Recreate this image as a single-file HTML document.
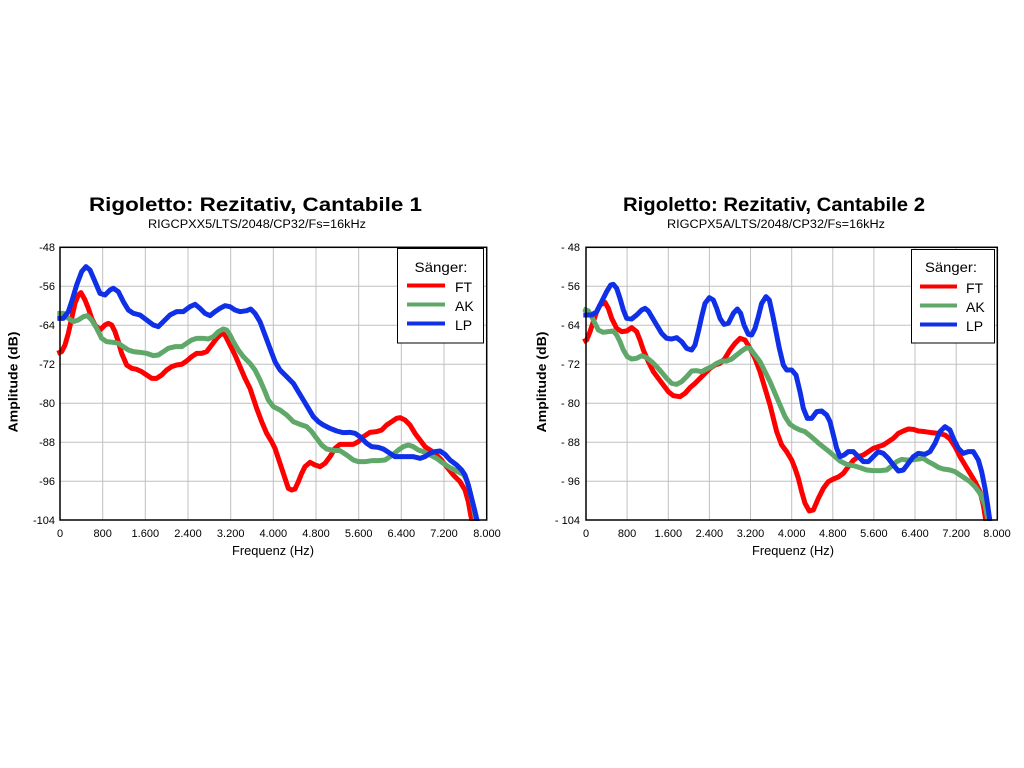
<!DOCTYPE html>
<html><head><meta charset="utf-8"><style>
html,body{margin:0;padding:0;background:#fff;}
svg{display:block;}
text{font-family:"Liberation Sans",sans-serif;fill:#000;}
</style></head><body>
<svg width="1024" height="768" viewBox="0 0 1024 768" xmlns="http://www.w3.org/2000/svg">
<rect width="1024" height="768" fill="#fff"/>
<defs>
<clipPath id="cl"><rect x="0" y="0" width="1024" height="521"/></clipPath>
</defs>

<!-- ===== LEFT CHART ===== -->
<text x="89" y="211" font-size="19" font-weight="bold" textLength="333" lengthAdjust="spacingAndGlyphs">Rigoletto: Rezitativ, Cantabile 1</text>
<text x="148" y="228" font-size="11.5" textLength="218" lengthAdjust="spacingAndGlyphs">RIGCPXX5/LTS/2048/CP32/Fs=16kHz</text>

<g stroke="#c0c0c0" stroke-width="1">
<line x1="102.7" y1="247" x2="102.7" y2="520"/><line x1="145.3" y1="247" x2="145.3" y2="520"/>
<line x1="188" y1="247" x2="188" y2="520"/><line x1="230.7" y1="247" x2="230.7" y2="520"/>
<line x1="273.3" y1="247" x2="273.3" y2="520"/><line x1="316" y1="247" x2="316" y2="520"/>
<line x1="358.7" y1="247" x2="358.7" y2="520"/><line x1="401.3" y1="247" x2="401.3" y2="520"/>
<line x1="444" y1="247" x2="444" y2="520"/>
<line x1="60" y1="286.3" x2="487" y2="286.3"/><line x1="60" y1="325.3" x2="487" y2="325.3"/>
<line x1="60" y1="364.3" x2="487" y2="364.3"/><line x1="60" y1="403.3" x2="487" y2="403.3"/>
<line x1="60" y1="442.3" x2="487" y2="442.3"/><line x1="60" y1="481.3" x2="487" y2="481.3"/>
</g>

<g font-size="11" text-anchor="end">
<text x="55" y="251">-48</text><text x="55" y="290">-56</text><text x="55" y="329">-64</text>
<text x="55" y="368">-72</text><text x="55" y="407">-80</text><text x="55" y="446">-88</text>
<text x="55" y="485">-96</text><text x="55" y="524">-104</text>
</g>
<g font-size="11" text-anchor="middle">
<text x="60" y="537">0</text><text x="102.7" y="537">800</text><text x="145.3" y="537">1.600</text>
<text x="188" y="537">2.400</text><text x="230.7" y="537">3.200</text><text x="273.3" y="537">4.000</text>
<text x="316" y="537">4.800</text><text x="358.7" y="537">5.600</text><text x="401.3" y="537">6.400</text>
<text x="444" y="537">7.200</text><text x="487" y="537">8.000</text>
</g>
<text x="232" y="555" font-size="13" textLength="82" lengthAdjust="spacingAndGlyphs">Frequenz (Hz)</text>
<text transform="translate(17.5,382) rotate(-90)" font-size="13" font-weight="bold" text-anchor="middle" textLength="101" lengthAdjust="spacingAndGlyphs">Amplitude (dB)</text>

<g clip-path="url(#cl)">
<g transform="translate(0,185) scale(0.33333)" fill="none" stroke-width="15" stroke-linejoin="round" stroke-linecap="butt">
<polyline stroke="#ff0000" points="172,505 185,500 195,480 205,445 215,400 225,355 235,330 243,323 255,345 265,370 275,400 285,420 300,435 315,420 325,415 335,420 345,440 355,470 365,505 380,540 395,550 410,553 425,560 440,570 455,580 470,580 485,570 500,555 515,545 530,540 545,538 560,528 575,515 590,505 605,505 620,500 635,480 650,460 665,445 675,450 690,480 705,510 720,545 735,580 750,610 760,640 770,670 785,710 800,745 815,770 825,790 835,820 845,850 855,880 865,910 875,915 885,912 895,890 905,865 915,845 930,832 945,840 960,845 975,835 990,815 1005,790 1020,778 1040,778 1060,778 1075,770 1090,755 1110,742 1130,740 1145,735 1160,720 1175,710 1190,700 1200,698 1215,705 1230,720 1245,745 1260,765 1275,785 1290,795 1305,805 1320,820 1340,845 1360,870 1380,890 1395,915 1405,950 1412,990 1417,1010"/>
<polyline stroke="#5fa86a" points="172,385 190,385 205,400 220,410 235,405 250,395 262,392 275,405 290,430 305,460 320,470 340,472 355,475 370,485 385,495 400,500 420,502 440,505 460,512 475,510 490,500 505,490 525,485 545,485 560,475 575,465 590,460 610,460 625,462 640,455 655,440 670,432 680,435 690,450 700,470 715,495 730,515 750,535 765,555 780,585 795,620 805,645 820,665 840,675 860,690 880,710 900,718 920,725 935,740 950,760 965,780 980,792 1000,796 1020,797 1040,810 1060,825 1075,830 1095,830 1115,827 1135,827 1155,825 1175,812 1195,795 1210,785 1225,780 1240,785 1255,795 1270,800 1290,810 1310,820 1330,835 1350,848 1370,858 1390,868 1400,885 1410,920 1420,965 1428,1010"/>
<polyline stroke="#1030e8" points="172,400 190,400 205,380 215,350 230,300 245,260 258,245 270,255 285,290 300,325 315,330 330,315 340,310 355,320 370,350 385,375 400,385 420,390 440,405 460,420 475,425 490,410 510,390 530,380 550,380 570,365 585,358 600,370 615,385 630,392 645,380 660,370 675,362 690,365 705,375 720,380 740,377 752,372 765,385 780,410 795,450 810,490 825,530 840,555 860,575 880,595 895,620 910,645 925,670 940,695 955,710 970,720 990,730 1010,738 1030,743 1050,742 1065,745 1080,755 1100,775 1115,785 1135,787 1150,792 1170,805 1185,815 1200,815 1220,815 1240,815 1260,820 1275,815 1290,805 1305,800 1320,798 1335,808 1350,825 1370,840 1385,855 1395,870 1405,900 1415,940 1425,980 1432,1010"/>
</g>
</g>

<rect x="60" y="247.3" width="426.7" height="272.7" fill="none" stroke="#000" stroke-width="1.5"/>

<rect x="397.5" y="248.5" width="86" height="94.5" fill="#fff" stroke="#000" stroke-width="1"/>
<text x="441" y="272" font-size="14" text-anchor="middle" textLength="53" lengthAdjust="spacingAndGlyphs">Sänger:</text>
<line x1="407" y1="285.5" x2="445" y2="285.5" stroke="#ff0000" stroke-width="4"/>
<line x1="407" y1="304.5" x2="445" y2="304.5" stroke="#5fa86a" stroke-width="4"/>
<line x1="407" y1="323.5" x2="445" y2="323.5" stroke="#1030e8" stroke-width="4"/>
<g font-size="14"><text x="455" y="292">FT</text><text x="455" y="311">AK</text><text x="455" y="330">LP</text></g>

<!-- ===== RIGHT CHART ===== -->
<text x="623" y="211" font-size="19" font-weight="bold" textLength="302" lengthAdjust="spacingAndGlyphs">Rigoletto: Rezitativ, Cantabile 2</text>
<text x="667" y="228" font-size="11.5" textLength="218" lengthAdjust="spacingAndGlyphs">RIGCPX5A/LTS/2048/CP32/Fs=16kHz</text>

<g stroke="#c0c0c0" stroke-width="1">
<line x1="627.1" y1="247" x2="627.1" y2="520"/><line x1="668.3" y1="247" x2="668.3" y2="520"/>
<line x1="709.4" y1="247" x2="709.4" y2="520"/><line x1="750.5" y1="247" x2="750.5" y2="520"/>
<line x1="791.7" y1="247" x2="791.7" y2="520"/><line x1="832.8" y1="247" x2="832.8" y2="520"/>
<line x1="873.9" y1="247" x2="873.9" y2="520"/><line x1="915" y1="247" x2="915" y2="520"/>
<line x1="956.2" y1="247" x2="956.2" y2="520"/>
<line x1="586" y1="286.3" x2="997" y2="286.3"/><line x1="586" y1="325.3" x2="997" y2="325.3"/>
<line x1="586" y1="364.3" x2="997" y2="364.3"/><line x1="586" y1="403.3" x2="997" y2="403.3"/>
<line x1="586" y1="442.3" x2="997" y2="442.3"/><line x1="586" y1="481.3" x2="997" y2="481.3"/>
</g>

<g font-size="11" text-anchor="end">
<text x="580" y="251">- 48</text><text x="580" y="290">- 56</text><text x="580" y="329">- 64</text>
<text x="580" y="368">- 72</text><text x="580" y="407">- 80</text><text x="580" y="446">- 88</text>
<text x="580" y="485">- 96</text><text x="580" y="524">- 104</text>
</g>
<g font-size="11" text-anchor="middle">
<text x="586" y="537">0</text><text x="627.1" y="537">800</text><text x="668.3" y="537">1.600</text>
<text x="709.4" y="537">2.400</text><text x="750.5" y="537">3.200</text><text x="791.7" y="537">4.000</text>
<text x="832.8" y="537">4.800</text><text x="873.9" y="537">5.600</text><text x="915" y="537">6.400</text>
<text x="956.2" y="537">7.200</text><text x="997" y="537">8.000</text>
</g>
<text x="752" y="555" font-size="13" textLength="82" lengthAdjust="spacingAndGlyphs">Frequenz (Hz)</text>
<text transform="translate(546,382) rotate(-90)" font-size="13" font-weight="bold" text-anchor="middle" textLength="101" lengthAdjust="spacingAndGlyphs">Amplitude (dB)</text>

<g clip-path="url(#cl)">
<g transform="translate(520,185) scale(0.33333)" fill="none" stroke-width="15" stroke-linejoin="round" stroke-linecap="butt">
<polyline stroke="#ff0000" points="190,470 200,465 210,440 220,410 230,380 240,360 255,352 265,370 275,400 290,430 305,440 320,438 335,428 350,440 360,465 370,495 385,530 400,560 415,580 430,600 445,620 460,632 480,635 495,625 510,608 525,595 540,580 555,565 570,550 585,540 600,535 615,520 630,495 645,475 660,460 675,465 690,490 705,520 720,560 735,610 750,660 760,700 770,740 785,780 800,800 815,825 825,850 835,880 845,920 855,955 868,978 880,975 895,940 910,910 925,890 940,882 955,876 970,865 985,845 1000,826 1015,815 1030,810 1045,800 1060,790 1075,785 1090,780 1105,770 1120,760 1135,745 1150,738 1165,732 1180,733 1195,738 1215,740 1235,743 1255,745 1275,750 1290,762 1305,785 1320,815 1335,840 1350,865 1365,890 1380,920 1390,960 1398,1010"/>
<polyline stroke="#5fa86a" points="190,372 205,378 215,395 225,415 235,435 250,442 265,440 280,438 290,450 300,470 310,495 322,515 335,522 350,520 365,512 380,518 395,530 410,545 425,562 440,580 455,595 470,598 485,590 500,575 515,558 530,557 545,560 560,552 575,545 590,535 605,528 620,528 635,522 650,510 665,498 680,488 690,490 705,510 720,530 735,560 750,590 765,625 780,660 795,695 810,718 825,728 840,735 855,740 870,752 885,765 900,778 915,790 930,802 945,815 960,828 980,838 1000,842 1020,848 1040,855 1060,857 1080,857 1100,855 1115,843 1130,830 1145,823 1160,825 1175,825 1195,822 1210,820 1225,830 1240,838 1255,847 1270,852 1290,855 1305,860 1320,870 1335,880 1350,890 1365,905 1380,925 1395,960 1405,1010"/>
<polyline stroke="#1030e8" points="190,390 215,390 230,380 245,350 260,320 272,300 280,298 290,310 300,340 310,375 320,400 335,402 350,390 365,375 375,370 385,378 395,395 410,420 425,445 440,460 455,462 470,458 485,470 500,490 515,495 525,480 535,440 545,395 555,355 568,338 580,345 590,370 600,400 612,418 625,415 640,385 652,372 662,385 672,420 685,448 695,450 705,430 715,395 725,355 738,335 748,345 758,390 768,440 778,490 790,540 800,555 815,555 828,570 840,620 850,670 862,700 875,700 890,680 905,678 920,690 930,710 940,750 950,790 960,815 972,810 985,800 1000,800 1015,815 1030,830 1045,830 1060,815 1075,800 1090,805 1105,820 1120,840 1135,858 1150,855 1165,835 1180,815 1195,805 1215,808 1230,800 1245,775 1260,740 1275,725 1290,735 1300,760 1315,790 1330,805 1345,800 1360,800 1375,825 1385,860 1395,910 1403,960 1410,1010"/>
</g>
</g>

<rect x="586" y="247.3" width="411.3" height="272.7" fill="none" stroke="#000" stroke-width="1.5"/>

<rect x="911.5" y="249.5" width="83" height="93.5" fill="#fff" stroke="#000" stroke-width="1"/>
<text x="951" y="272" font-size="14" text-anchor="middle" textLength="52" lengthAdjust="spacingAndGlyphs">Sänger:</text>
<line x1="920" y1="286.5" x2="957" y2="286.5" stroke="#ff0000" stroke-width="4"/>
<line x1="920" y1="305.5" x2="957" y2="305.5" stroke="#5fa86a" stroke-width="4"/>
<line x1="920" y1="324.5" x2="957" y2="324.5" stroke="#1030e8" stroke-width="4"/>
<g font-size="14"><text x="966" y="293">FT</text><text x="966" y="312">AK</text><text x="966" y="331">LP</text></g>
</svg>
</body></html>
